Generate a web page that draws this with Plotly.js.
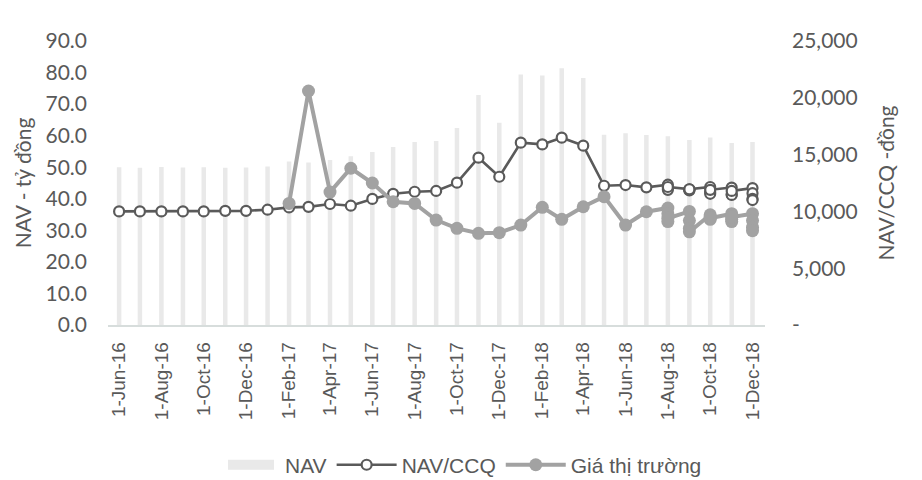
<!DOCTYPE html>
<html>
<head>
<meta charset="utf-8">
<script src="https://cdn.plot.ly/plotly-3.0.1.min.js"></script>
<style>html,body{margin:0;padding:0;background:#fff;}#chart{width:922px;height:480px;}</style>
</head>
<body>
<div id="chart"></div>
<script>
// Monthly NAV bars (tỷ đồng)
const months = [
  '2016-06-01','2016-07-01','2016-08-01','2016-09-01','2016-10-01','2016-11-01','2016-12-01',
  '2017-01-01','2017-02-01','2017-03-01','2017-04-01','2017-05-01','2017-06-01','2017-07-01',
  '2017-08-01','2017-09-01','2017-10-01','2017-11-01','2017-12-01','2018-01-01','2018-02-01',
  '2018-03-01','2018-04-01','2018-05-01','2018-06-01','2018-07-01','2018-08-01','2018-09-01',
  '2018-10-01','2018-11-01','2018-12-01'
];
const navValues = [
  50.0, 49.8, 50.1, 49.9, 50.0, 49.8, 49.9, 50.2, 51.8, 51.5, 52.3, 53.5, 54.8, 56.4,
  58.0, 58.3, 62.4, 72.9, 64.1, 79.4, 79.1, 81.4, 78.3, 60.3, 60.8, 60.2, 59.8, 58.6,
  59.4, 57.7, 58.0
];

// NAV/CCQ and market price points (later months have weekly points plotted on the month)
const lineDates = [
  '2016-06-01','2016-07-01','2016-08-01','2016-09-01','2016-10-01','2016-11-01','2016-12-01',
  '2017-01-01','2017-02-01','2017-03-01','2017-04-01','2017-05-01','2017-06-01','2017-07-01',
  '2017-08-01','2017-09-01','2017-10-01','2017-11-01','2017-12-01','2018-01-01','2018-02-01',
  '2018-03-01','2018-04-01','2018-05-01','2018-06-01','2018-07-01',
  '2018-08-01','2018-08-01','2018-08-01','2018-08-01',
  '2018-09-01','2018-09-01','2018-09-01','2018-09-01',
  '2018-10-01','2018-10-01','2018-10-01','2018-10-01',
  '2018-11-01','2018-11-01','2018-11-01','2018-11-01',
  '2018-12-01','2018-12-01','2018-12-01','2018-12-01'
];
const navPerUnit = [
  10000, 10000, 10000, 10000, 10000, 10050, 10050, 10150, 10350, 10400, 10650, 10500, 11100, 11550,
  11730, 11800, 12530, 14730, 13050, 16050, 15900, 16490, 15790, 12260, 12320, 12120,
  12350, 12050, 11900, 12150,
  11950, 11900, 11850, 11950,
  12150, 11700, 11550, 11900,
  12100, 11500, 11450, 11800,
  12050, 11600, 11100, 11000
];
const marketPrice = [
  null, null, null, null, null, null, null, null, 10700, 20600, 11700, 13800, 12500, 10850,
  10700, 9240, 8510, 8070, 8130, 8800, 10360, 9300, 10410, 11300, 8800, 9970,
  10300, 9800, 9100, 9400,
  10000, 9200, 8500, 8200,
  9700, 9500, 9300, 9400,
  9800, 9300, 9100, 9500,
  9800, 9200, 8600, 8300
];

const leftTicks = [0, 10, 20, 30, 40, 50, 60, 70, 80, 90];
const rightTickVals = [0, 5000, 10000, 15000, 20000, 25000];
const rightTickText = ['-', '5,000', '10,000', '15,000', '20,000', '25,000'];

const seriesNames = ['NAV', 'NAV/CCQ', 'Giá thị trường'];
const axisTitles = ['NAV - tỷ đồng', 'NAV/CCQ -đồng'];

const txt = '#595959';
const tickFont = {family: 'Lato, "Noto Sans", sans-serif', size: 21, color: txt};

const traces = [
  {
    type: 'bar', name: seriesNames[0], legendgroup: 'g1', x: months, y: navValues, yaxis: 'y',
    marker: {color: '#e9e9e9', line: {width: 0}},
    width: 5.6e8, hoverinfo: 'x+y'
  },
  {
    type: 'scatter', mode: 'lines+markers', name: seriesNames[1], legendgroup: 'g2', x: lineDates, y: navPerUnit, yaxis: 'y2',
    line: {color: '#5a5a5a', width: 2.6},
    marker: {symbol: 'circle', size: 10, color: '#ffffff', line: {color: '#5a5a5a', width: 2.2}}
  },
  {
    type: 'scatter', mode: 'lines+markers', name: seriesNames[2], legendgroup: 'g3', x: lineDates, y: marketPrice, yaxis: 'y2',
    connectgaps: false,
    line: {color: '#a2a2a2', width: 4},
    marker: {symbol: 'circle', size: 13, color: '#a2a2a2', line: {width: 0}}
  }
];

const layout = {
  width: 922, height: 480,
  margin: {l: 108, r: 157, t: 41, b: 155},
  paper_bgcolor: '#ffffff', plot_bgcolor: '#ffffff',
  showlegend: true,
  legend: {
    orientation: 'h', xref: 'container', yref: 'container',
    x: 0.5, xanchor: 'center', y: 0.031, yanchor: 'middle',
    font: {family: '"Liberation Sans", Arial, sans-serif', size: 21, color: txt},
    itemwidth: 60, traceorder: 'grouped', tracegroupgap: 24, bgcolor: 'rgba(0,0,0,0)'
  },
  xaxis: {
    type: 'date',
    range: ['2016-05-16', '2018-12-19'],
    tick0: '2016-06-01', dtick: 'M2', tickformat: '%-d-%b-%y',
    tickangle: -90,
    tickfont: {family: '"Liberation Sans", Arial, sans-serif', size: 19, color: txt},
    showgrid: false, zeroline: false,
    showline: true, linecolor: '#d7dddc', linewidth: 1.5,
    ticks: '', ticklabelstandoff: 8
  },
  yaxis: {
    range: [0, 90], tickvals: leftTicks, tickformat: '.1f',
    tickfont: tickFont,
    showgrid: false, zeroline: false, showline: false, ticks: '',
    ticklabelstandoff: 20,
    title: {text: axisTitles[0], font: {family: 'Lato, "Noto Sans", sans-serif', size: 21, color: txt}, standoff: 8}
  },
  yaxis2: {
    overlaying: 'y', side: 'right',
    range: [0, 25000], tickvals: rightTickVals, ticktext: rightTickText,
    tickfont: tickFont,
    showgrid: false, zeroline: false, showline: false, ticks: '',
    ticklabelstandoff: 26,
    title: {text: axisTitles[1], font: {family: 'Lato, "Noto Sans", sans-serif', size: 21, color: txt}, standoff: 22}
  }
};

Plotly.newPlot('chart', traces, layout, {staticPlot: true, displayModeBar: false}).then(function (gd) {
  // widen the bar legend swatch to a flat rectangle like the original
  gd.querySelectorAll('.legend .legendbar path, .legend .legendpoints path').forEach(function (p) {
    const d = p.getAttribute('d') || '';
    if (d === 'M6,6H-6V-6H6Z') p.setAttribute('d', 'M24,5H-22V-5H24Z');
  });
});
</script>
</body>
</html>
